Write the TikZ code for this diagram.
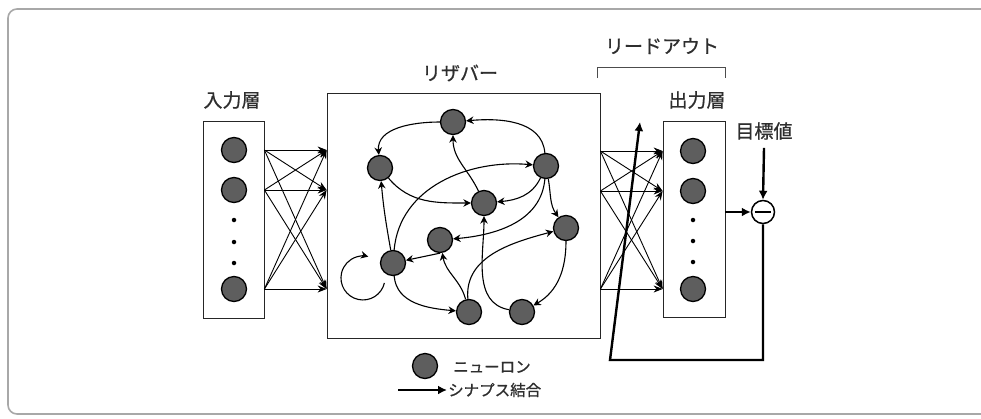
\documentclass[tikz,border=0pt]{standalone}
\usepackage{fontspec}
\newfontfamily\jp[AutoFakeBold=0.8]{Noto Sans CJK JP}
\usetikzlibrary{arrows.meta}
\definecolor{neurongray}{HTML}{5E5E5E}
\definecolor{textgray}{HTML}{2E2E2E}
\definecolor{framegray}{HTML}{A8A8A8}

\begin{document}
\begin{tikzpicture}[x=1pt,y=1pt,
  neuron/.style={circle,draw=black,line width=1.3pt,fill=neurongray,minimum size=25pt,inner sep=0pt},
  layerbox/.style={draw=black!85,line width=0.8pt,inner sep=0pt},
  syn/.style={line width=1.1pt,-{Stealth[length=7.5pt,width=7.5pt]}},
  feed/.style={line width=0.9pt,-{Stealth[length=9pt,width=7pt]}},
  heavy/.style={line width=2.4pt,-{Latex[length=9pt,width=9pt]}},
  lbl/.style={font=\jp\bfseries\fontsize{19}{21}\selectfont,text=textgray,inner sep=0pt},
  legtext/.style={font=\jp\bfseries\fontsize{15.5}{17}\selectfont,text=textgray,inner sep=0pt,anchor=west},
  dot/.style={circle,fill=black,minimum size=4.5pt,inner sep=0pt}
]
\clip (0,0) rectangle (981,-418);
\useasboundingbox (0,0) rectangle (981,-418);

% outer frame
\draw[framegray,line width=1.6pt,rounded corners=9pt] (8,-9) rectangle (1000,-414);

% layer boxes
\node[layerbox,minimum width=61pt,minimum height=197pt] (inbox) at (233.5,-219.5) {};
\node[layerbox,minimum width=273pt,minimum height=245pt] (res) at (463.5,-215.5) {};
\node[layerbox,minimum width=62pt,minimum height=196pt] (outbox) at (694,-219) {};

% labels
\node[lbl] (inlbl) at (232,-100) {入力層};
\node[lbl] (reslbl) at (460,-73) {リザバー};
\node[lbl] (readlbl) at (662,-46) {リードアウト};
\node[lbl] (outlbl) at (697,-100) {出力層};
\node[lbl] (target) at (764,-131) {目標値};

% readout bracket
\coordinate (brA) at (597,-78);
\coordinate (brB) at (725,-78);
\draw[black!70,line width=0.8pt] (brA) -- ++(0,11) -| (brB);

% input layer
\node[neuron] (i1) at (234,-150) {};
\node[neuron] (i2) at (234,-190) {};
\node[neuron] (i3) at (234,-289) {};
\node[dot] (id1) at (234,-220) {};
\node[dot] (id2) at (234,-242) {};
\node[dot] (id3) at (234,-263) {};

% output layer
\node[neuron] (o1) at (693,-151) {};
\node[neuron] (o2) at (693,-191) {};
\node[neuron] (o3) at (693,-289) {};
\node[dot] (od1) at (693,-220) {};
\node[dot] (od2) at (693,-241) {};
\node[dot] (od3) at (693,-262) {};

% input -> reservoir, all to all
\foreach \s in {i1,i2,i3}
  \foreach \t in {i1,i2,i3}
    \draw[feed] (inbox.east |- \s) -- (res.west |- \t);

% reservoir -> output, all to all
\foreach \s in {o1,o2,o3}
  \foreach \t in {o1,o2,o3}
    \draw[feed] (res.east |- \s) -- (outbox.west |- \t);

% reservoir neurons
\node[neuron] (r1) at (453,-122) {};
\node[neuron] (r2) at (380,-168) {};
\node[neuron] (r3) at (546,-166) {};
\node[neuron] (r4) at (484,-203) {};
\node[neuron] (r5) at (566,-228) {};
\node[neuron] (r6) at (440,-240) {};
\node[neuron] (r7) at (393,-263) {};
\node[neuron] (r8) at (469,-312) {};
\node[neuron] (r9) at (522,-312) {};

% recurrent synapses
\draw[syn] (r1) to[out=180,in=95] (r2);
\draw[syn] (r3) to[out=95,in=5] (r1);
\draw[syn] (r4) to[out=115,in=-90] (r1);
\draw[syn] (r2) to[out=-50,in=180] (r4);
\draw[syn] (r3) to[out=-115,in=5] (r4);
\draw[syn] (r7) to[out=85,in=175] (r3);
\draw[syn] (r7) to[out=100,in=-85] (r2);
\draw[syn] (r3) to[out=-80,in=125] (r5);
\draw[syn] (r3) to[out=-95,in=5] (r6);
\draw[syn] (r8) to[out=95,in=195] (r5);
\draw[syn] (r9) to[out=170,in=-90] (r4);
\draw[syn] (r5) to[out=-90,in=30] (r9);
\draw[syn] (r6.south) -- (r7);
\draw[syn] (r8) to[out=105,in=-80] (r6);
\draw[syn] (r7) to[out=-85,in=175] (r8);
% self connection
\coordinate (loopstart) at (384.4,-282.9);
\draw[syn] (loopstart) arc[start angle=-13,end angle=-284,radius=22];

% error node
\node[circle,draw=black,line width=1.5pt,fill=white,minimum size=23pt,inner sep=0pt] (sub) at (763,-212) {};
\draw[line width=1.6pt] ([xshift=4pt]sub.west) -- ([xshift=-4pt]sub.east);
\draw[heavy] ([yshift=-8pt]target.south) -- (sub.north);
\draw[heavy] (outbox.east |- sub) -- (sub.west);

% feedback to the readout weights
\coordinate (fbcorner) at (610,-360);
\coordinate (fbtip) at (640,-122);
\draw[heavy] (sub.south) |- (fbcorner) -- (fbtip);

% legend
\node[neuron] (legn) at (425,-366) {};
\node[legtext] (legntext) at (453,-367) {ニューロン};
\coordinate (legA) at (398,-390);
\coordinate (legB) at (447,-390);
\draw[line width=2pt,-{Latex[length=9pt,width=9pt]}] (legA) -- (legB);
\node[legtext] (legstext) at (448,-390) {シナプス結合};
\end{tikzpicture}
\end{document}
